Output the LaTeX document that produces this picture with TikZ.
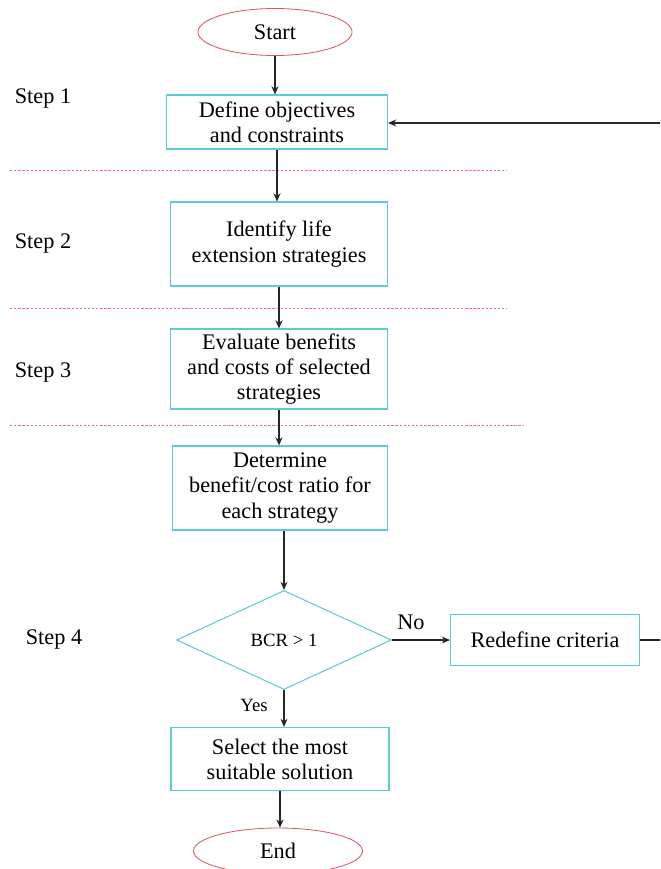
\documentclass[tikz,border=0pt]{standalone}
\usepackage{fontspec}
\setmainfont{Liberation Serif}
\usetikzlibrary{shapes.geometric,arrows.meta}
\definecolor{boxcyan}{RGB}{95,200,215}
\definecolor{termred}{RGB}{220,85,95}
\definecolor{sepred}{RGB}{235,110,130}
\begin{document}
\begin{tikzpicture}[x=0.03cm,y=-0.03cm,
  thick,
  procbox/.style={rectangle,draw=boxcyan,line width=0.9pt,align=center,
    font=\fontsize{19}{21.5}\selectfont,inner sep=2pt},
  termnode/.style={ellipse,draw=termred,line width=0.7pt,
    font=\fontsize{19}{21.5}\selectfont,inner sep=0pt},
  decnode/.style={diamond,draw=boxcyan,line width=0.9pt,
    font=\fontsize{16}{18}\selectfont,inner sep=0pt},
  steplabel/.style={font=\fontsize{19}{21.5}\selectfont},
  sepline/.style={draw=sepred,line width=0.6pt,dash pattern=on 2pt off 1.5pt},
  flow/.style={draw=black!85,line width=0.9pt,-{Stealth[length=7pt,width=6pt]}}]
  \useasboundingbox (0,0) rectangle (660,869);
  \clip (0,0) rectangle (660,869);

  \node[termnode,minimum width=4.62cm,minimum height=1.41cm] (start) at (275,32) {Start};
  \node[procbox,minimum width=6.63cm,minimum height=1.62cm] (define) at (277,122)
    {Define objectives\\and constraints};
  \node[procbox,minimum width=6.51cm,minimum height=2.52cm] (identify) at (279,244)
    {Identify life\\extension strategies};
  \node[procbox,minimum width=6.51cm,minimum height=2.4cm] (evaluate) at (279,369)
    {Evaluate benefits\\and costs of selected\\strategies};
  \node[procbox,minimum width=6.45cm,minimum height=2.52cm] (determine) at (280,488)
    {Determine\\benefit/cost ratio for\\each strategy};
  \node[decnode,minimum width=6.45cm,minimum height=2.97cm] (bcr) at (284,640) {BCR > 1};
  \node[procbox,minimum width=5.67cm,minimum height=1.53cm] (redefine) at (545,640)
    {Redefine criteria};
  \node[procbox,minimum width=6.54cm,minimum height=1.89cm] (select) at (280,759)
    {Select the most\\suitable solution};
  \node[termnode,minimum width=5.07cm,minimum height=1.38cm] (end) at (278,851) {End};

  \node[steplabel] (s1) at (43,98) {Step 1};
  \node[steplabel] (s2) at (43,243) {Step 2};
  \node[steplabel] (s3) at (43,372) {Step 3};
  \node[steplabel] (s4) at (54,639) {Step 4};
  \node[font=\fontsize{19}{21.5}\selectfont] (no) at (411,622) {No};
  \node[font=\fontsize{16}{18}\selectfont] (yes) at (254,705) {Yes};

  \draw[sepline] (10,170) -- (507,170);
  \draw[sepline] (10,308) -- (507,308);
  \draw[sepline] (10,425) -- (523,425);

  \coordinate (loop) at (670,123);

  \draw[flow] (start.south) -- (start.south |- define.north);
  \draw[flow] (define.south) -- (define.south |- identify.north);
  \draw[flow] (identify.south) -- (identify.south |- evaluate.north);
  \draw[flow] (evaluate.south) -- (evaluate.south |- determine.north);
  \draw[flow] (determine.south -| bcr.north) -- (bcr.north);
  \draw[flow] (bcr.east) -- (redefine.west);
  \draw[flow] (bcr.south) -- (bcr.south |- select.north);
  \draw[flow] (select.south) -- (select.south |- end.north);
  \draw[flow] (redefine.east) -| (loop) -- (define.east |- loop);
\end{tikzpicture}
\end{document}
